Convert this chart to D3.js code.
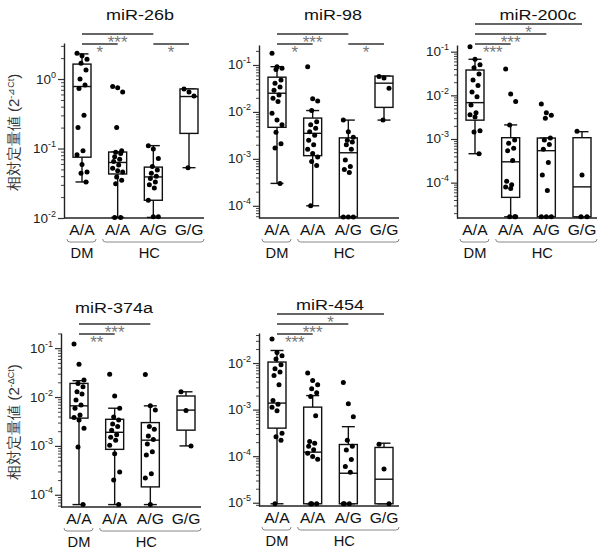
<!DOCTYPE html>
<html>
<head>
<meta charset="utf-8">
<script src="https://cdn.jsdelivr.net/npm/d3@7"></script>
<style>
body { margin: 0; background: #fff; }
svg { display: block; }
text { font-family: "Liberation Sans", Arial, sans-serif; }
</style>
</head>
<body>
<svg id="chart" width="602" height="559"></svg>
<script>
// genotype categories along each x axis, and the DM / HC groups under them
const categories = ["A/A", "A/A", "A/G", "G/G"];
const groupNames = ["DM", "HC"];

// box stats per category: [whisker low, q1, median, q3, whisker high]
const mir26bBox = [[0.033, 0.075, 0.78, 1.64, 2.3], [0.0102, 0.043, 0.063, 0.089, 0.089], [0.0102, 0.018, 0.039, 0.054, 0.11], [0.053, 0.165, 0.56, 0.72, 0.72]];
const mir98Box = [[0.0003, 0.0047, 0.025, 0.055, 0.092], [0.0001, 0.00117, 0.0035, 0.0074, 0.0107], [5.8e-5, 5.8e-5, 0.00135, 0.0028, 0.0067], [0.0067, 0.0125, 0.041, 0.058, 0.058]];
const mir200cBox = [[0.00046, 0.0027, 0.0068, 0.038, 0.067], [1.65e-5, 4.6e-5, 0.0003, 0.00107, 0.0021], [1.65e-5, 1.65e-5, 0.00054, 0.00105, 0.00105], [1.65e-5, 1.65e-5, 8e-5, 0.00107, 0.00147]];
const mir374aBox = [[6.3e-5, 0.0037, 0.0066, 0.019, 0.0216], [6.3e-5, 0.00085, 0.0019, 0.0035, 0.0059], [6.3e-5, 0.000145, 0.00131, 0.003, 0.0066], [0.001, 0.0021, 0.0054, 0.0105, 0.0128]];
const mir454Box = [[9.5e-6, 0.0004, 0.00138, 0.0105, 0.0186], [9.5e-6, 9.5e-6, 0.000122, 0.00113, 0.002], [9.5e-6, 9.5e-6, 4.3e-5, 0.000178, 0.00043], [9.5e-6, 9.5e-6, 3.2e-5, 0.000154, 0.00019]];

// individual samples per category
const mir26bPoints = [
	[2.34, 2.17, 1.92, 1.68, 1.35, 1.0, 0.82, 0.73, 0.30, 0.20, 0.093, 0.081, 0.059, 0.046, 0.044, 0.033],
	[0.78, 0.75, 0.65, 0.20, 0.093, 0.088, 0.085, 0.076, 0.070, 0.065, 0.058, 0.052, 0.048, 0.046, 0.039, 0.035, 0.031, 0.0102, 0.0102],
	[0.110, 0.098, 0.072, 0.055, 0.049, 0.044, 0.040, 0.037, 0.033, 0.030, 0.027, 0.018, 0.0104, 0.0104],
	[0.72, 0.65, 0.57, 0.053]
];
const mir98Points = [
	[0.178, 0.092, 0.085, 0.080, 0.048, 0.041, 0.034, 0.029, 0.023, 0.0195, 0.0166, 0.0094, 0.0067, 0.0053, 0.0037, 0.0021, 0.0017, 0.0003],
	[0.092, 0.019, 0.017, 0.0107, 0.0062, 0.0053, 0.0045, 0.0038, 0.0032, 0.0025, 0.0020, 0.0016, 0.0013, 0.0011, 0.00088, 0.00072, 0.0001],
	[0.0067, 0.0038, 0.0029, 0.0025, 0.0023, 0.0020, 0.0016, 0.00095, 0.00069, 0.00059, 0.00051, 5.8e-5, 5.8e-5, 5.8e-5],
	[0.057, 0.053, 0.032, 0.0067]
];
const mir200cPoints = [
	[0.13, 0.067, 0.050, 0.043, 0.031, 0.0225, 0.0167, 0.012, 0.0093, 0.006, 0.004, 0.0036, 0.0032, 0.00154, 0.00145, 0.00046],
	[0.040, 0.0107, 0.0072, 0.0021, 0.00095, 0.0008, 0.00061, 0.00054, 0.00032, 0.000107, 8.9e-5, 7.9e-5, 7.3e-5, 1.65e-5, 1.65e-5, 1.65e-5],
	[0.0063, 0.004, 0.0035, 0.003, 0.00105, 0.00095, 0.00075, 0.00058, 0.00029, 0.00015, 6.6e-5, 1.65e-5, 1.65e-5, 1.65e-5],
	[0.0015, 0.00015, 1.65e-5, 1.65e-5]
];
const mir374aPoints = [
	[0.122, 0.047, 0.0223, 0.019, 0.0163, 0.0128, 0.0115, 0.0087, 0.0069, 0.0059, 0.0043, 0.0038, 0.0034, 0.0023, 0.00095, 6.3e-5],
	[0.0292, 0.0105, 0.0059, 0.0039, 0.0034, 0.0028, 0.0025, 0.0021, 0.0017, 0.0015, 0.0013, 0.00103, 0.00069, 0.000293, 0.0002, 6.3e-5],
	[0.029, 0.0066, 0.0054, 0.0025, 0.0022, 0.0016, 0.00135, 0.0011, 0.00076, 0.00065, 0.00027, 0.00022, 6.3e-5],
	[0.0128, 0.0053, 0.001]
];
const mir454Points = [
	[0.033, 0.0169, 0.0144, 0.0122, 0.0092, 0.0075, 0.0064, 0.0054, 0.0034, 0.00157, 0.00131, 0.00112, 0.00095, 0.00031, 0.00026, 0.00022, 9.5e-6],
	[0.0061, 0.0042, 0.0034, 0.0028, 0.0023, 0.0019, 0.00074, 0.000206, 0.00019, 0.000163, 0.000137, 0.000116, 9.8e-5, 8.6e-5, 9.5e-6, 9.5e-6, 9.5e-6],
	[0.0038, 0.00133, 0.0007, 0.00022, 0.000163, 0.000135, 8.5e-5, 6e-5, 4.5e-5, 9.5e-6, 9.5e-6, 9.5e-6],
	[0.00018, 5.3e-5, 9.5e-6]
];

// significance brackets: [from category, to category, label, stacking row]
const mir26bSig = [[0, 2, "***", 1], [0, 1, "*", 0], [2, 3, "*", 0]];
const mir98Sig = [[0, 2, "***", 1], [0, 1, "*", 0], [2, 3, "*", 0]];
const mir200cSig = [[0, 3, "*", 2], [0, 2, "***", 1], [0, 1, "***", 0]];
const mir374aSig = [[0, 2, "***", 1], [0, 1, "**", 0]];
const mir454Sig = [[0, 3, "*", 2], [0, 2, "***", 1], [0, 1, "***", 0]];

// where each panel sits on the page
const panels = [
	{ title: "miR-26b", box: mir26bBox, pts: mir26bPoints, sig: mir26bSig, domain: [1e-2, 3.3], left: 64, top: 43, bottom: 218, titleX: 140, titleY: 20, sigBase: 44, yLabel: "⊿" },
	{ title: "miR-98", box: mir98Box, pts: mir98Points, sig: mir98Sig, domain: [Math.pow(10, -4.26), Math.pow(10, -0.574)], left: 259, top: 45, bottom: 218, titleX: 333, titleY: 20, sigBase: 44 },
	{ title: "miR-200c", box: mir200cBox, pts: mir200cPoints, sig: mir200cSig, domain: [Math.pow(10, -4.81), Math.pow(10, -0.847)], left: 457, top: 45, bottom: 218, titleX: 538, titleY: 20, sigBase: 44 },
	{ title: "miR-374a", box: mir374aBox, pts: mir374aPoints, sig: mir374aSig, domain: [Math.pow(10, -4.25), Math.pow(10, -0.69)], left: 61, top: 333, bottom: 507, titleX: 114, titleY: 313, sigBase: 334, yLabel: "Δ" },
	{ title: "miR-454", box: mir454Box, pts: mir454Points, sig: mir454Sig, domain: [Math.pow(10, -5.07), Math.pow(10, -1.355)], left: 259, top: 333, bottom: 506, titleX: 330, titleY: 310, sigBase: 334 },
];

const svg = d3.select("#chart");
svg.append("rect").attr("width", 602).attr("height", 559).attr("fill", "#fff");

// spreads the dots sideways so they do not sit on one line
const jitter = j => ((j * 5) % 11) - 5;

// the figure's lettering is a little wider than the installed sans
function wideText(g, x, y, sx, size, str) {
	return g.append("text")
		.attr("transform", `translate(${x},${y}) scale(${sx},1)`)
		.attr("text-anchor", "middle")
		.attr("font-size", size)
		.attr("fill", "#111")
		.text(str);
}

panels.forEach(p => drawPanel(p));

function drawPanel(p) {
	let g = svg.append("g");
	let y = d3.scaleLog().domain(p.domain).range([p.bottom, p.top]);
	let x = d3.scalePoint().domain(d3.range(categories.length)).range([p.left + 18, p.left + 125]);

	// decade and in-between ticks
	let major = [], minor = [];
	let k0 = Math.floor(Math.log10(p.domain[0])), k1 = Math.ceil(Math.log10(p.domain[1]));
	for (let k = k0; k <= k1; k++) {
		for (let m = 1; m < 10; m++) {
			let v = m * Math.pow(10, k);
			if (v >= p.domain[0] && v <= p.domain[1]) (m === 1 ? major : minor).push(v);
		}
	}
	g.append("g")
		.attr("transform", `translate(${p.left},0)`)
		.call(d3.axisLeft(y).tickValues(minor).tickSize(3).tickFormat(""))
		.call(a => a.select(".domain").remove())
		.selectAll("line").attr("stroke", "#444");
	let axisG = g.append("g")
		.attr("transform", `translate(${p.left},0)`)
		.call(d3.axisLeft(y).tickValues(major).tickSize(6).tickSizeOuter(0).tickFormat(""));
	axisG.selectAll("line").attr("stroke", "#333").attr("stroke-width", 1.2);
	axisG.select(".domain").attr("stroke", "#222").attr("stroke-width", 1.4);

	major.forEach(v => {
		let t = g.append("text")
			.attr("x", p.left - 8)
			.attr("y", y(v) + 4.5)
			.attr("text-anchor", "end")
			.attr("font-size", 13.5)
			.attr("fill", "#222");
		t.append("tspan").text("10");
		t.append("tspan").attr("dy", -6).attr("font-size", 9).text(String(Math.round(Math.log10(v))));
	});

	// bottom axis line
	g.append("line")
		.attr("x1", p.left).attr("x2", p.left + 140)
		.attr("y1", p.bottom).attr("y2", p.bottom)
		.attr("stroke", "#222").attr("stroke-width", 1.4);

	// whiskers, boxes and medians
	let bw = 18, cw = 13;
	p.box.forEach((b, i) => {
		let cx = x(i);
		let [lo, q1, med, q3, hi] = b;
		g.append("line").attr("x1", cx).attr("x2", cx).attr("y1", y(lo)).attr("y2", y(hi))
			.attr("stroke", "#111").attr("stroke-width", 1.4);
		[lo, hi].forEach(v => g.append("line")
			.attr("x1", cx - cw / 2).attr("x2", cx + cw / 2)
			.attr("y1", y(v)).attr("y2", y(v))
			.attr("stroke", "#111").attr("stroke-width", 1.4));
		g.append("rect")
			.attr("x", cx - bw / 2).attr("width", bw)
			.attr("y", y(q3)).attr("height", Math.max(0, y(q1) - y(q3)))
			.attr("fill", "#fff").attr("stroke", "#111").attr("stroke-width", 1.4);
		g.append("line").attr("x1", cx - bw / 2).attr("x2", cx + bw / 2)
			.attr("y1", y(med)).attr("y2", y(med))
			.attr("stroke", "#111").attr("stroke-width", 1.4);
	});

	// dots
	p.pts.forEach((arr, i) => {
		g.append("g").selectAll("circle")
			.data(arr)
			.join("circle")
			.attr("cx", (d, j) => x(i) + jitter(j))
			.attr("cy", d => y(d))
			.attr("r", 2.5)
			.attr("fill", "#000");
	});

	// significance lines
	p.sig.forEach(s => {
		let [a, b, label, row] = s;
		let ly = p.sigBase - row * 10;
		g.append("line")
			.attr("x1", x(a)).attr("x2", x(b))
			.attr("y1", ly).attr("y2", ly)
			.attr("stroke", "#333").attr("stroke-width", 1.3);
		g.append("text")
			.attr("x", (x(a) + x(b)) / 2)
			.attr("y", ly + 14)
			.attr("text-anchor", "middle")
			.attr("font-size", 17)
			.attr("fill", "#777")
			.text(label);
	});

	// title
	wideText(g, p.titleX, p.titleY, 1.2, 15, p.title);

	// category labels, brackets and group names
	categories.forEach((c, i) => wideText(g, x(i), p.bottom + 17, 1.12, 14, c));
	let by = p.bottom + 24;
	let spans = [[x(0) - 15, x(0) + 14], [x(1) - 15, x(3) + 15]];
	spans.forEach(([x1, x2]) => {
		g.append("path")
			.attr("d", `M${x1},${by - 3}Q${x1},${by} ${x1 + 3},${by}L${x2 - 3},${by}Q${x2},${by} ${x2},${by - 3}`)
			.attr("fill", "none").attr("stroke", "#888").attr("stroke-width", 1);
	});
	wideText(g, x(0), p.bottom + 40, 1.05, 14, groupNames[0]);
	wideText(g, x(2) - 4, p.bottom + 40, 1.05, 14, groupNames[1]);

	// y title on the left-hand panels
	if (p.yLabel) {
		let t = g.append("text")
			.attr("transform", `translate(19,${(p.top + p.bottom) / 2 + 2}) rotate(-90)`)
			.attr("text-anchor", "middle")
			.attr("font-family", "'Noto Sans CJK JP', sans-serif")
			.attr("font-size", 15)
			.attr("fill", "#333");
		t.append("tspan").text("相対定量値 (2");
		t.append("tspan").attr("dy", -5).attr("font-size", 9).text("-" + p.yLabel + "Ct");
		t.append("tspan").attr("dy", 5).text(")");
	}
}
</script>
</body>
</html>
